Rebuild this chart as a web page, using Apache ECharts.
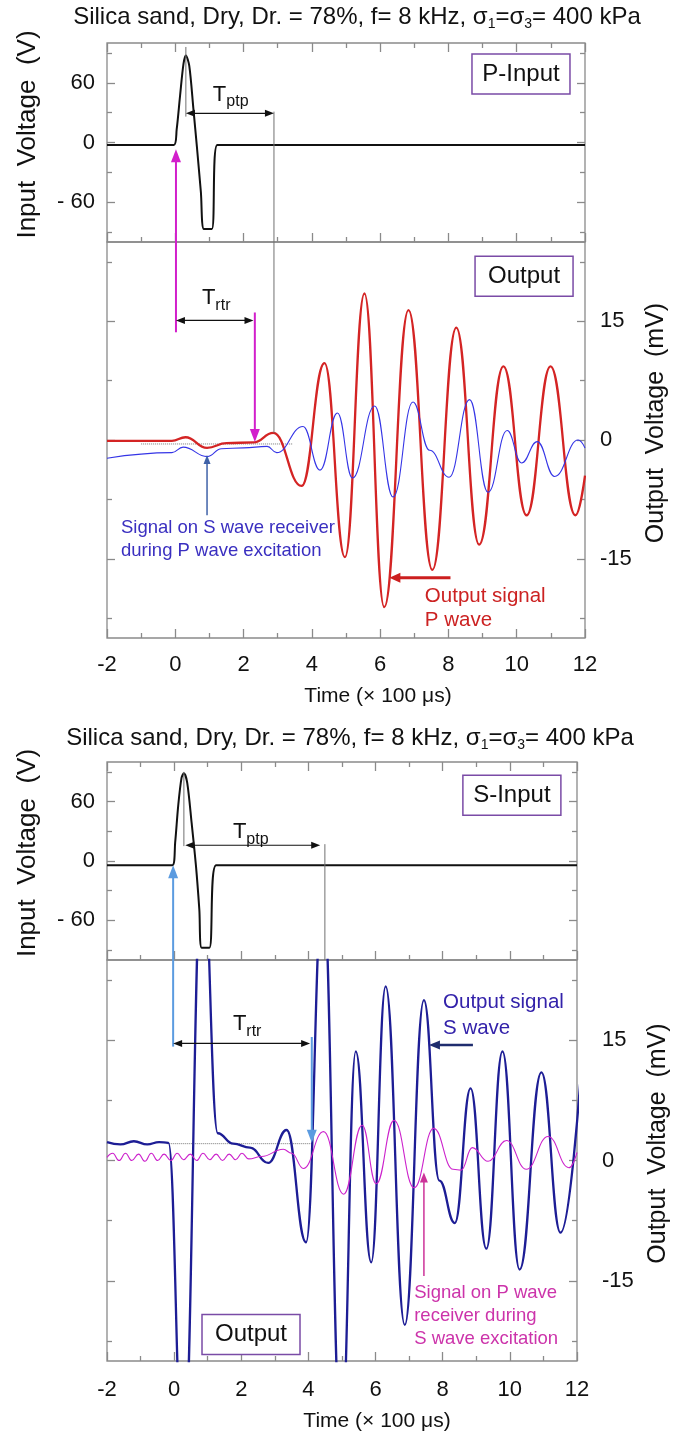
<!DOCTYPE html>
<html><head><meta charset="utf-8">
<script src="https://cdn.jsdelivr.net/npm/echarts@6/dist/echarts.min.js"></script>
<style>html,body{margin:0;padding:0;background:#fff}#c{width:686px;height:1435px}</style>
</head><body><div id="c"></div>
<script>
// ---------------- DATA ----------------
const timeMin = -2, timeMax = 12, timeStep = 2;
const inputRange = [-100, 100];
const outputRange = [-25, 25];
const inputTicksMajor = [-60, 0, 60];
const inputTicksMinor = [-90, -30, 30, 90];
const outputTicksMajor = [-15, 0, 15];
const outputTicksMinor = [-22.5, -7.5, 7.5, 22.5];

// Panel A: P-wave excitation
const pInputT = [-2, -0.04, 0.04, 0.14, 0.24, 0.31, 0.41, 0.53, 0.64, 0.75, 0.84, 1.07, 1.23, 12];
const pInputV = [-2.4, -2.4, 13, 47, 79, 87.5, 77, 34, -7, -50, -87, -87, -2.4, -2.4];
const pOutT = [-2, -1.0, -0.1, 0.3, 0.93, 1.5, 2.3, 2.87, 3.7, 4.37, 4.97, 5.54, 6.12, 6.83, 7.53, 8.23, 8.9, 9.61, 10.29, 10.99, 11.72, 12.0];
const pOutV = [-0.1, -0.1, -0.1, 0.35, -1.0, -0.4, -0.3, 0.9, -5.8, 9.7, -14.8, 18.5, -21.1, 16.4, -16.4, 14.2, -13.2, 9.3, -9.5, 9.3, -9.5, -4.5];
const sRecT = [-2, -0.1, 0.23, 0.94, 1.35, 2.0, 2.69, 2.97, 3.74, 4.24, 4.75, 5.19, 5.84, 6.38, 6.96, 7.45, 8.02, 8.62, 9.16, 9.72, 10.14, 10.6, 11.11, 11.8, 12];
const sRecV = [-2.3, -1.6, -0.9, -2.1, -1.1, -1.0, -0.8, -1.6, 1.7, -3.8, 3.4, -4.8, 4.3, -7.2, 4.8, -1.3, -4.7, 5.1, -6.6, 1.2, -2.9, -0.2, -4.6, 0.0, -1.0];
const baseA_T = [-1.0, 3.45];
const baseA_V = [-0.5, -0.5];

// Panel B: S-wave excitation
const sInputT = [-2, -0.05, 0.03, 0.12, 0.22, 0.29, 0.39, 0.52, 0.65, 0.75, 0.82, 1.05, 1.25, 12];
const sInputV = [-4.3, -4.3, 18.6, 55.5, 84, 88.6, 79, 38.8, -5, -48.8, -87.5, -87.5, -4.3, -4.3];
const sOutT = [-2, -1.6, -1.2, -0.8, -0.45, -0.17, 0.27, 0.85, 1.3, 1.76, 2.26, 2.8, 3.35, 3.93, 4.43, 4.98, 5.41, 5.87, 6.3, 6.87, 7.44, 7.9, 8.36, 8.83, 9.3, 9.78, 10.29, 10.94, 11.51, 12.1];
const sOutV = [2.3, 2.0, 2.4, 2.0, 2.3, 2.2, -38, 38, 3.4, 2.1, 1.6, -0.3, 3.8, -10.2, 34, -35, 13.6, -12.7, 21.7, -20.5, 20, -2.5, -7.8, 9.0, -11, 13.6, -13.6, 11, -9, 10];
const pRecT = [-2, -1.83, -1.64, -1.45, -1.26, -1.06, -0.87, -0.68, -0.49, -0.3, -0.1, 0.09, 0.28, 0.48, 0.67, 0.86, 1.06, 1.25, 1.44, 1.64, 1.83, 2.02, 2.22, 2.6, 3.25, 3.5, 3.85, 4.45, 5.05, 5.6, 6.02, 6.55, 7.15, 7.73, 8.31, 8.55, 8.88, 9.35, 9.9, 10.49, 11.14, 11.76, 12];
const pRecV = [0.4, 0.9, 0.0, 0.9, 0.0, 0.8, -0.1, 0.9, 0.0, 0.8, 0.0, 0.9, 0.1, 0.8, 0.0, 0.9, 0.1, 0.8, 0.0, 0.8, 0.1, 0.9, 0.2, 0.5, 1.4, 0.9, -1.0, 3.6, -4.2, 4.4, -2.9, 5.0, -3.4, 4.0, -1.1, -1.2, 1.6, -0.1, 2.5, -1.1, 3.0, -0.9, 1.0];
const baseB_T = [-0.22, 4.1];
const baseB_V = [2.1, 2.1];

// Annotation anchors (data coordinates)
const titleText = 'Silica sand, Dry, Dr. = 78%, f= 8 kHz, σ{s|1}=σ{s|3}= 400 kPa';
const grayLinesA = [[['Ain', 0.31, 96], ['Ain', 0.31, 26]], [['Ain', 2.89, 31], ['Aout', 2.89, 0.9]]];
const grayLinesB = [[['Bin', 0.29, 90], ['Bin', 0.29, 15]], [['Bin', 4.49, 17], ['Bin', 4.49, -100]]];

// ---------------- CHART ----------------
const FONT = 'Liberation Sans, Arial, sans-serif';
const AX = '#8a8a8a';
const chart = echarts.init(document.getElementById('c'), null, {renderer: 'canvas'});
const zip = (t, v) => t.map((x, i) => [x, v[i]]);

const grids = [
  {left: 107, top: 43, width: 478, height: 199},
  {left: 107, top: 242, width: 478, height: 396},
  {left: 107, top: 762, width: 470, height: 198},
  {left: 107, top: 960, width: 470, height: 401}
].map(g => Object.assign({show: true, borderColor: AX, borderWidth: 1.3, backgroundColor: 'transparent', containLabel: false, outerBoundsMode: 'none'}, g));

function xAx(grid, pos, labels, margin, nameGap, nameShift) {
  return {
    type: 'value', gridIndex: grid, position: pos, min: timeMin, max: timeMax, interval: timeStep,
    axisLine: {show: false, onZero: false}, splitLine: {show: false},
    axisTick: {show: true, inside: true, length: 9, lineStyle: {color: AX, width: 1.3}},
    minorTick: {show: true, splitNumber: 2, length: 5, lineStyle: {color: AX, width: 1.3}},
    axisLabel: {show: labels, margin: margin || 16, fontSize: 22, color: '#111', fontFamily: FONT},
    name: labels ? 'Time (× 100 μs)' : '', nameLocation: 'middle', nameGap: nameGap || 48,
    nameTextStyle: {fontSize: 21, color: '#111', fontFamily: FONT, padding: [0, 0, 0, nameShift || 0]}
  };
}
const fmtIn = v => (v < 0 ? '- ' + Math.abs(v) : String(v));
const fmtOut = v => String(v);
function yAx(grid, pos, range, ticks, len, extra) {
  return Object.assign({
    type: 'value', gridIndex: grid, position: pos, min: range[0], max: range[1],
    axisLine: {show: false, onZero: false}, splitLine: {show: false},
    axisTick: {show: true, inside: true, length: len, customValues: ticks, lineStyle: {color: AX, width: 1.3}},
    axisLabel: {show: false}
  }, extra || {});
}
function inLabels() {
  return {
    axisLabel: {show: true, customValues: inputTicksMajor, formatter: fmtIn, margin: 12, fontSize: 22, color: '#111', fontFamily: FONT},
    name: 'Input  Voltage  (V)', nameLocation: 'middle', nameRotate: 90, nameGap: 66,
    nameTextStyle: {fontSize: 26, color: '#111', fontFamily: FONT, padding: [0, 0, 0, 16]}
  };
}
function outLabels(margin, gap) {
  return {
    axisLabel: {show: true, customValues: outputTicksMajor, formatter: fmtOut, margin: margin, fontSize: 22, color: '#111', fontFamily: FONT},
    name: 'Output  Voltage  (mV)', nameLocation: 'middle', nameRotate: 90, nameGap: gap,
    nameTextStyle: {fontSize: 25, color: '#111', fontFamily: FONT, padding: [0, 0, 0, 34]}
  };
}

const xAxes = [
  xAx(0, 'bottom', false), xAx(0, 'top', false), xAx(1, 'bottom', true, 16, 48, 64),
  xAx(2, 'bottom', false), xAx(2, 'top', false), xAx(3, 'bottom', true, 18, 50, 70)
];
const yAxes = [
  yAx(0, 'left', inputRange, inputTicksMajor, 8, inLabels()),
  yAx(0, 'left', inputRange, inputTicksMinor, 5),
  yAx(0, 'right', inputRange, inputTicksMajor, 8),
  yAx(0, 'right', inputRange, inputTicksMinor, 5),
  yAx(1, 'right', outputRange, outputTicksMajor, 8, outLabels(15, 59)),
  yAx(1, 'right', outputRange, outputTicksMinor, 5),
  yAx(1, 'left', outputRange, outputTicksMajor, 8),
  yAx(1, 'left', outputRange, outputTicksMinor, 5),
  yAx(2, 'left', inputRange, inputTicksMajor, 8, inLabels()),
  yAx(2, 'left', inputRange, inputTicksMinor, 5),
  yAx(2, 'right', inputRange, inputTicksMajor, 8),
  yAx(2, 'right', inputRange, inputTicksMinor, 5),
  yAx(3, 'right', outputRange, outputTicksMajor, 8, outLabels(25, 69)),
  yAx(3, 'right', outputRange, outputTicksMinor, 5),
  yAx(3, 'left', outputRange, outputTicksMajor, 8),
  yAx(3, 'left', outputRange, outputTicksMinor, 5)
];

function lineSeries(name, xi, yi, data, color, width, smooth, mono, type) {
  const s = {type: 'line', name, xAxisIndex: xi, yAxisIndex: yi, data, showSymbol: false, symbol: 'none',
    smooth: smooth, clip: true, silent: true,
    lineStyle: {color, width, type: type || 'solid'}};
  if (mono) s.smoothMonotone = 'x';
  return s;
}

const option = {
  animation: false,
  backgroundColor: '#ffffff',
  grid: grids,
  xAxis: xAxes,
  yAxis: yAxes,
  series: [
    lineSeries('P-Input', 0, 0, zip(pInputT, pInputV), '#111111', 2, 0.3, false),
    lineSeries('Baseline A', 2, 4, zip(baseA_T, baseA_V), '#777777', 1, false, false, 'dotted'),
    lineSeries('P wave output', 2, 4, zip(pOutT, pOutV), '#d42424', 2.3, 0.45, true),
    lineSeries('S receiver (P excitation)', 2, 4, zip(sRecT, sRecV), '#3535e6', 1.1, 0.45, true),
    lineSeries('S-Input', 3, 8, zip(sInputT, sInputV), '#111111', 2, 0.3, false),
    lineSeries('Baseline B', 5, 12, zip(baseB_T, baseB_V), '#777777', 1, false, false, 'dotted'),
    lineSeries('S wave output', 5, 12, zip(sOutT, sOutV), '#1d1d95', 2.3, 0.45, true),
    lineSeries('P receiver (S excitation)', 5, 12, zip(pRecT, pRecV), '#cc22cc', 1.1, 0.45, true)
  ]
};
chart.setOption(option);

// ---------------- ANNOTATIONS ----------------
const CS = {
  Ain: {xAxisIndex: 0, yAxisIndex: 0}, Aout: {xAxisIndex: 2, yAxisIndex: 4},
  Bin: {xAxisIndex: 3, yAxisIndex: 8}, Bout: {xAxisIndex: 5, yAxisIndex: 12}
};
const P = (a) => chart.convertToPixel(CS[a[0]], [a[1], a[2]]);

const arrows = [
  // [from, to, color, width, startHead, endHead, headLen, headWid]
  [['Ain', 0.31, 29.3], ['Ain', 2.89, 29.3], '#111', 1.2, true, true, 9, 7],
  [['Aout', 0.02, 13.6], ['Ain', 0.02, -6.8], '#d21fcb', 2, false, true, 13, 10],
  [['Aout', 0.02, 15.1], ['Aout', 2.29, 15.1], '#111', 1.2, true, true, 9, 7],
  [['Aout', 2.33, 16.1], ['Aout', 2.33, -0.25], '#d21fcb', 2, false, true, 13, 10],
  [['Aout', 0.93, -9.5], ['Aout', 0.93, -1.9], '#3f62a8', 1.5, false, true, 9, 7],
  [['Aout', 8.06, -17.4], ['Aout', 6.27, -17.4], '#cc1f1f', 3, false, true, 11, 10],
  [['Bin', 0.33, 15.9], ['Bin', 4.35, 15.9], '#111', 1.2, true, true, 9, 7],
  [['Bout', -0.03, 14.2], ['Bin', -0.03, -4.3], '#5b9be0', 2, false, true, 13, 10],
  [['Bout', -0.03, 14.6], ['Bout', 4.05, 14.6], '#111', 1.2, true, true, 9, 7],
  [['Bout', 4.1, 15.4], ['Bout', 4.1, 2.2], '#5b9be0', 2, false, true, 13, 10],
  [['Bout', 7.44, -14.4], ['Bout', 7.44, -1.5], '#cc3399', 1.5, false, true, 10, 8],
  [['Bout', 8.9, 14.4], ['Bout', 7.59, 14.4], '#1f2d6e', 2.5, false, true, 11, 9]
];
const texts = [
  // [anchor (left, first-line centre), text, color, size, lineHeight]
  [['Aout', -1.59, -11.1], 'Signal on S wave receiver\nduring P wave excitation', '#3a2fc0', 18.5, 23],
  [['Aout', 7.31, -19.7], 'Output signal\nP wave', '#cc2222', 20.5, 24],
  [['Bout', 8.01, 19.7], 'Output signal\nS wave', '#3322aa', 20.5, 26],
  [['Bout', 7.15, -16.5], 'Signal on P wave\nreceiver during\nS wave excitation', '#cc33aa', 18.5, 23]
];
const subLabels = [
  [['Ain', 1.1, 48], 'T{s|ptp}'],
  [['Aout', 0.78, 17.9], 'T{s|rtr}'],
  [['Bin', 1.75, 29], 'T{s|ptp}'],
  [['Bout', 1.75, 17], 'T{s|rtr}']
];
const boxes = [
  // [anchor, corner, label]
  [['Ain', 11.56, 89], 'tr', 'P-Input'],
  [['Aout', 11.65, 23.2], 'tr', 'Output'],
  [['Bin', 11.52, 86.6], 'tr', 'S-Input'],
  [['Bout', 0.83, -19.2], 'tl', 'Output']
];

const els = [];
function head(tip, ux, uy, hl, hw, color) {
  const bx = tip[0] - ux * hl, by = tip[1] - uy * hl;
  return {type: 'polygon', z: 20, silent: true,
    shape: {points: [tip, [bx - uy * hw / 2, by + ux * hw / 2], [bx + uy * hw / 2, by - ux * hw / 2]]},
    style: {fill: color}};
}
arrows.forEach(([f, t, color, w, sh, eh, hl, hw]) => {
  const p1 = P(f), p2 = P(t);
  const dx = p2[0] - p1[0], dy = p2[1] - p1[1], L = Math.hypot(dx, dy), ux = dx / L, uy = dy / L;
  let a = p1, b = p2;
  if (sh) { a = [p1[0] + ux * hl * 0.8, p1[1] + uy * hl * 0.8]; els.push(head(p1, -ux, -uy, hl, hw, color)); }
  if (eh) { b = [p2[0] - ux * hl * 0.8, p2[1] - uy * hl * 0.8]; els.push(head(p2, ux, uy, hl, hw, color)); }
  els.push({type: 'line', z: 20, silent: true, shape: {x1: a[0], y1: a[1], x2: b[0], y2: b[1]}, style: {stroke: color, lineWidth: w}});
});
grayLinesA.concat(grayLinesB).forEach(([f, t]) => {
  const p1 = P(f), p2 = P(t);
  els.push({type: 'line', z: 15, silent: true, shape: {x1: p1[0], y1: p1[1], x2: p2[0], y2: p2[1]}, style: {stroke: '#707070', lineWidth: 1}});
});
texts.forEach(([a, txt, color, size, lh]) => {
  const p = P(a);
  els.push({type: 'text', z: 20, silent: true, x: p[0], y: p[1] - lh / 2,
    style: {text: txt, fill: color, fontSize: size, fontFamily: FONT, lineHeight: lh, align: 'left', verticalAlign: 'top'}});
});
subLabels.forEach(([a, txt]) => {
  const p = P(a);
  els.push({type: 'text', z: 20, silent: true, x: p[0], y: p[1],
    style: {text: txt, fill: '#111', fontSize: 22, fontFamily: FONT, align: 'left', verticalAlign: 'middle',
      rich: {s: {fontSize: 16, fontFamily: FONT, fill: '#111', padding: [14, 0, 0, 0]}}}});
});
boxes.forEach(([a, corner, label]) => {
  const p = P(a), w = 98, h = 40;
  const x = corner === 'tr' ? p[0] - w : p[0], y = p[1];
  els.push({type: 'rect', z: 18, silent: true, shape: {x, y, width: w, height: h}, style: {fill: '#fff', stroke: '#7a4ba6', lineWidth: 1.5}});
  els.push({type: 'text', z: 19, silent: true, x: x + w / 2, y: y + h / 2,
    style: {text: label, fill: '#111', fontSize: 24, fontFamily: FONT, align: 'center', verticalAlign: 'middle'}});
});
[[357, 17], [350, 738]].forEach(([x, y]) => {
  els.push({type: 'text', z: 20, silent: true, x, y,
    style: {text: titleText, fill: '#111', fontSize: 24, fontFamily: FONT, align: 'center', verticalAlign: 'middle',
      rich: {s: {fontSize: 14, fontFamily: FONT, fill: '#111', padding: [14, 0, 0, 0]}}}});
});
chart.setOption({graphic: {elements: els}});
</script>
</body></html>
